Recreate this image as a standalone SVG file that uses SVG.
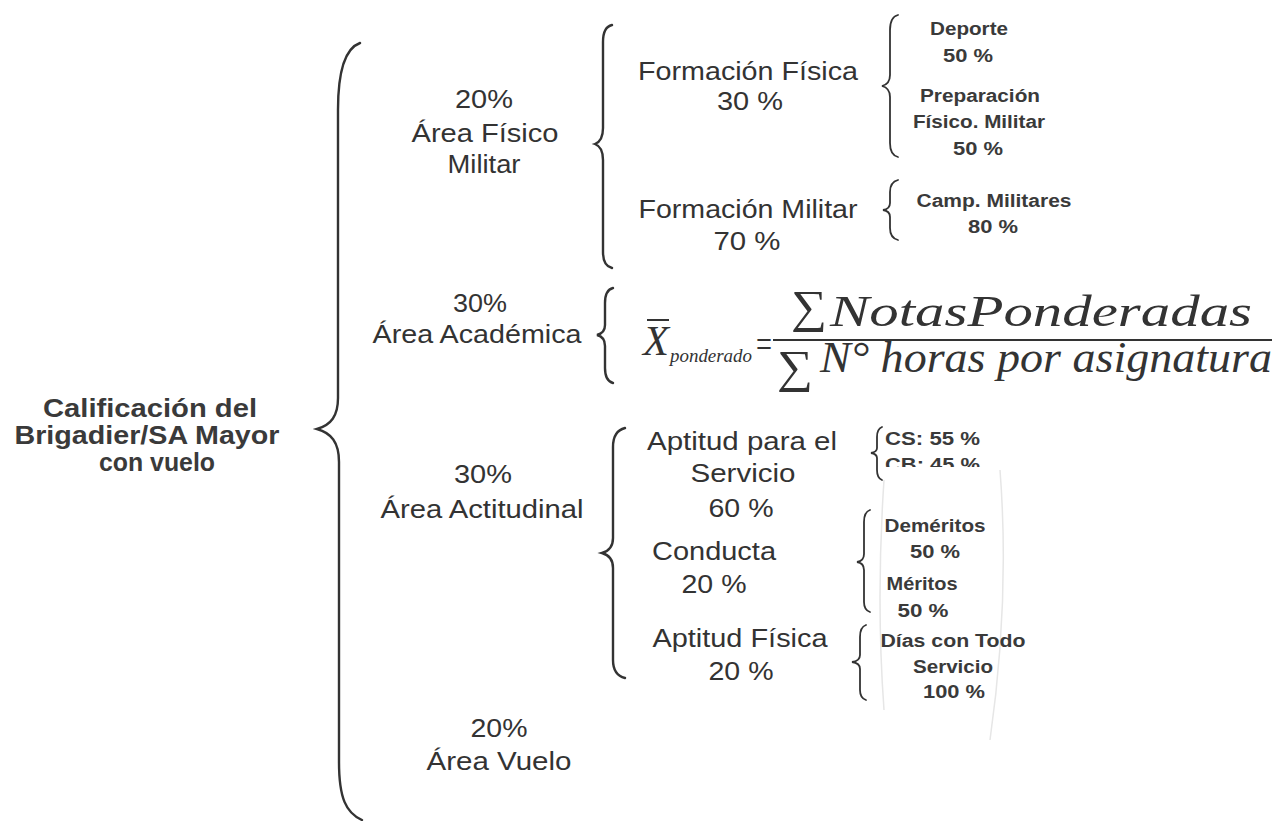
<svg xmlns="http://www.w3.org/2000/svg" width="1279" height="821" viewBox="0 0 1279 821">
<style>
.t{font-family:"Liberation Sans",Arial,sans-serif;font-size:26px;fill:#333;text-anchor:middle}
.s{font-family:"Liberation Sans",Arial,sans-serif;font-size:18px;font-weight:bold;fill:#3a3a3a;text-anchor:middle}
.sl{font-family:"Liberation Sans",Arial,sans-serif;font-size:18px;font-weight:bold;fill:#3a3a3a}
.b{font-family:"Liberation Sans",Arial,sans-serif;font-size:25px;font-weight:bold;fill:#3a3a3a;text-anchor:middle}
.m{font-family:"Liberation Serif","Times New Roman",serif;font-style:italic;fill:#333}
.sig{font-family:"Liberation Serif","DejaVu Serif",serif;fill:#333}
.br{fill:none;stroke:#333;stroke-width:2.4;stroke-linecap:round}
.sb{fill:none;stroke:#333;stroke-width:1.8;stroke-linecap:round}
.fa{fill:none;stroke:#e6e6e6;stroke-width:1.5}
</style>
<defs>
<clipPath id="cbclip"><rect x="880" y="450" width="120" height="17"/></clipPath>
</defs>
<rect width="1279" height="821" fill="#fff"/>

<g id="faint">
<path class="fa" d="M 1000 470 Q 1010 600 990 740"/>
<path class="fa" d="M 884 480 Q 876 600 884 710"/>
</g>

<g id="connectors">
<path class="br" d="M 360 43 C 346 48 338 68 338 110 L 338 398 C 338 416 331 425 317 429 C 331 433 339 442 339 462 L 339 762 C 339 798 346 813 362 820"/>
<path class="br" d="M 612 25 Q 603 27 603 42 L 603 128 Q 603 141 595 144 Q 603 147 603 160 L 603 252 Q 603 266 612 268"/>
<path class="br" d="M 613 288 Q 605 290 605 303 L 605 325 Q 605 333 597 335 Q 605 337 605 346 L 605 368 Q 605 381 613 383"/>
<path class="br" d="M 625 428 Q 613 431 613 447 L 613 538 Q 613 550 602 553 Q 613 556 613 568 L 613 660 Q 613 675 625 678"/>
<path class="sb" d="M 898 15 Q 890 17 890 30 L 890 75 Q 890 84 882 86 Q 890 88 890 97 L 890 143 Q 890 155 898 157"/>
<path class="sb" d="M 898 180 Q 890 182 890 192 L 890 203 Q 890 209 883 210 Q 890 211 890 217 L 890 228 Q 890 238 898 240"/>
<path class="sb" d="M 882 427 Q 877 429 877 437 L 877 448 Q 877 452 871 453 Q 877 454 877 458 L 877 470 Q 877 478 882 480"/>
<path class="sb" d="M 870 510 Q 864 512 864 522 L 864 554 Q 864 561 857 562 Q 864 563 864 570 L 864 602 Q 864 610 870 612"/>
<path class="sb" d="M 866 625 Q 860 627 860 637 L 860 655 Q 860 661 852 662 Q 860 663 860 669 L 860 690 Q 860 698 866 700"/>
</g>

<g id="root">
<text class="b" x="150" y="417" textLength="214" lengthAdjust="spacingAndGlyphs">Calificación del</text>
<text class="b" x="147" y="444" textLength="265" lengthAdjust="spacingAndGlyphs">Brigadier/SA Mayor</text>
<text class="b" x="157" y="471" textLength="116" lengthAdjust="spacingAndGlyphs">con vuelo</text>
</g>

<g id="area-fisico-militar">
<text class="t" x="484" y="108" textLength="58" lengthAdjust="spacingAndGlyphs">20%</text>
<text class="t" x="485" y="142" textLength="147" lengthAdjust="spacingAndGlyphs">Área Físico</text>
<text class="t" x="484" y="173" textLength="73" lengthAdjust="spacingAndGlyphs">Militar</text>
</g>

<g id="formacion-fisica">
<text class="t" x="748" y="80" textLength="220" lengthAdjust="spacingAndGlyphs">Formación Física</text>
<text class="t" x="750" y="110" textLength="66" lengthAdjust="spacingAndGlyphs">30 %</text>
</g>

<g id="deporte">
<text class="s" x="969" y="35" textLength="78" lengthAdjust="spacingAndGlyphs">Deporte</text>
<text class="s" x="968" y="62" textLength="50" lengthAdjust="spacingAndGlyphs">50 %</text>
</g>

<g id="preparacion">
<text class="s" x="980" y="102" textLength="120" lengthAdjust="spacingAndGlyphs">Preparación</text>
<text class="s" x="979" y="128" textLength="132" lengthAdjust="spacingAndGlyphs">Físico. Militar</text>
<text class="s" x="978" y="155" textLength="50" lengthAdjust="spacingAndGlyphs">50 %</text>
</g>

<g id="formacion-militar">
<text class="t" x="748" y="218" textLength="219" lengthAdjust="spacingAndGlyphs">Formación Militar</text>
<text class="t" x="747" y="250" textLength="67" lengthAdjust="spacingAndGlyphs">70 %</text>
</g>

<g id="camp-militares">
<text class="s" x="994" y="207" textLength="155" lengthAdjust="spacingAndGlyphs">Camp. Militares</text>
<text class="s" x="993" y="233" textLength="50" lengthAdjust="spacingAndGlyphs">80 %</text>
</g>

<g id="area-academica">
<text class="t" x="480" y="312" textLength="54" lengthAdjust="spacingAndGlyphs">30%</text>
<text class="t" x="477" y="343" textLength="209" lengthAdjust="spacingAndGlyphs">Área Académica</text>
</g>

<g id="formula">
<text class="m" x="643" y="355" font-size="42" textLength="26" lengthAdjust="spacingAndGlyphs">X</text>
<line x1="647" y1="320" x2="669" y2="320" stroke="#333" stroke-width="2"/>
<text class="m" x="670" y="362" font-size="19" textLength="82" lengthAdjust="spacingAndGlyphs">ponderado</text>
<text class="sig" x="756" y="357" font-size="38" textLength="16" lengthAdjust="spacingAndGlyphs">=</text>
<line x1="773" y1="340" x2="1272" y2="340" stroke="#333" stroke-width="2"/>
<text class="sig" x="791" y="322" font-size="46" textLength="36" lengthAdjust="spacingAndGlyphs">∑</text>
<text class="m" x="830" y="326" font-size="44" textLength="422" lengthAdjust="spacingAndGlyphs">NotasPonderadas</text>
<text class="sig" x="777" y="382" font-size="46" textLength="36" lengthAdjust="spacingAndGlyphs">∑</text>
<text class="m" x="820" y="372" font-size="44" textLength="452" lengthAdjust="spacingAndGlyphs">N° horas por asignatura</text>
</g>

<g id="area-actitudinal">
<text class="t" x="483" y="483" textLength="58" lengthAdjust="spacingAndGlyphs">30%</text>
<text class="t" x="482" y="518" textLength="203" lengthAdjust="spacingAndGlyphs">Área Actitudinal</text>
</g>

<g id="aptitud-servicio">
<text class="t" x="742" y="450" textLength="190" lengthAdjust="spacingAndGlyphs">Aptitud para el</text>
<text class="t" x="743" y="482" textLength="105" lengthAdjust="spacingAndGlyphs">Servicio</text>
<text class="t" x="741" y="517" textLength="65" lengthAdjust="spacingAndGlyphs">60 %</text>
</g>

<g id="cs-cb">
<text class="sl" x="885" y="445" textLength="95" lengthAdjust="spacingAndGlyphs">CS: 55 %</text>
<text class="sl" x="885" y="471" textLength="95" lengthAdjust="spacingAndGlyphs" clip-path="url(#cbclip)">CB: 45 %</text>
</g>

<g id="conducta">
<text class="t" x="714" y="560" textLength="124" lengthAdjust="spacingAndGlyphs">Conducta</text>
<text class="t" x="714" y="593" textLength="65" lengthAdjust="spacingAndGlyphs">20 %</text>
</g>

<g id="meritos">
<text class="s" x="935" y="532" textLength="101" lengthAdjust="spacingAndGlyphs">Deméritos</text>
<text class="s" x="935" y="558" textLength="50" lengthAdjust="spacingAndGlyphs">50 %</text>
<text class="s" x="922" y="590" textLength="71" lengthAdjust="spacingAndGlyphs">Méritos</text>
<text class="s" x="923" y="617" textLength="51" lengthAdjust="spacingAndGlyphs">50 %</text>
</g>

<g id="aptitud-fisica">
<text class="t" x="740" y="647" textLength="175" lengthAdjust="spacingAndGlyphs">Aptitud Física</text>
<text class="t" x="741" y="680" textLength="65" lengthAdjust="spacingAndGlyphs">20 %</text>
</g>

<g id="dias-servicio">
<text class="s" x="953" y="647" textLength="145" lengthAdjust="spacingAndGlyphs">Días con Todo</text>
<text class="s" x="953" y="673" textLength="80" lengthAdjust="spacingAndGlyphs">Servicio</text>
<text class="s" x="954" y="698" textLength="62" lengthAdjust="spacingAndGlyphs">100 %</text>
</g>

<g id="area-vuelo">
<text class="t" x="499" y="737" textLength="57" lengthAdjust="spacingAndGlyphs">20%</text>
<text class="t" x="499" y="770" textLength="145" lengthAdjust="spacingAndGlyphs">Área Vuelo</text>
</g>
</svg>
